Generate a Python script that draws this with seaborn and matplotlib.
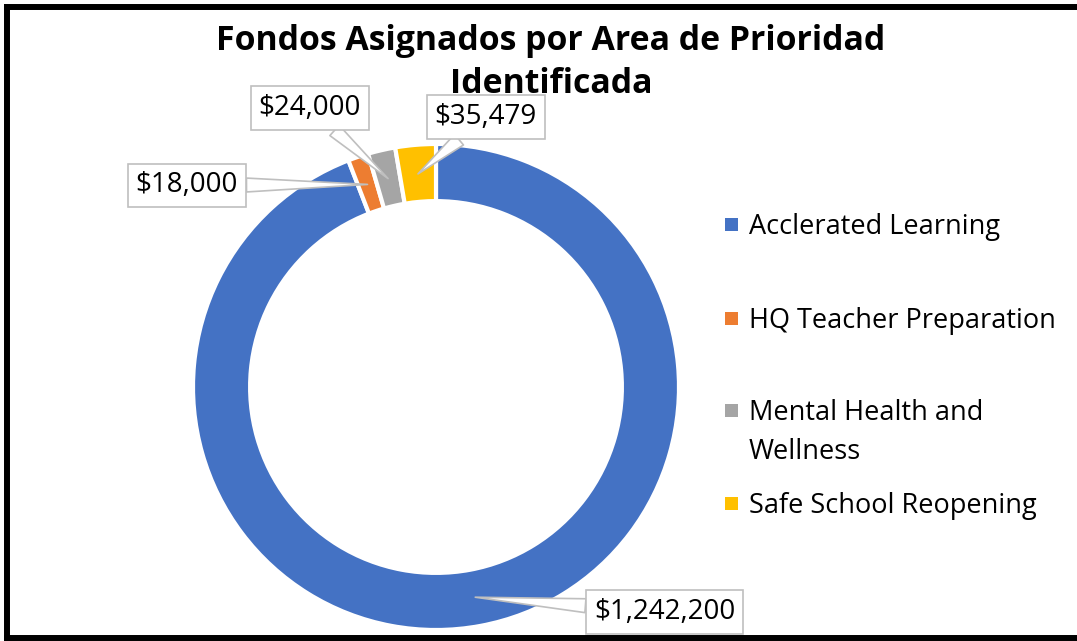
import matplotlib
matplotlib.use("Agg")
import matplotlib.pyplot as plt
import seaborn as sns
import numpy as np
from matplotlib.lines import Line2D
from matplotlib.patches import Rectangle

# Data
categories = ["Acclerated Learning", "HQ Teacher Preparation",
              "Mental Health and Wellness", "Safe School Reopening"]
legend_labels = ["Acclerated Learning", "HQ Teacher Preparation",
                 "Mental Health and\nWellness", "Safe School Reopening"]
amounts = [1242200, 18000, 24000, 35479]
title_lines = ["Fondos Asignados por Area de Prioridad", "Identificada"]

# Excel-like palette
colors = ["#4472C4", "#ED7D31", "#A5A5A5", "#FFC000"]

# Label box centers (data units of the pie axes) and legend/title rows (px from top)
label_pos = [(0.94, -0.925), (-1.025, 0.83), (-0.52, 1.148), (0.205, 1.11)]
legend_y = [227, 321, 432.5, 506]
title_y = [41, 84]

sns.set_theme(style="white")
plt.rcParams['font.family'] = ['Open Sans', 'DejaVu Sans']
plt.rcParams['text.color'] = 'black'

W, H = 1077, 641
fig = plt.figure(figsize=(W / 100, H / 100), dpi=100)

# Donut axes: centre (436, 387) px, outer radius 243 px
cx, cy, r = 436, 387, 243
ax = fig.add_axes([(cx - r) / W, (H - cy - r) / H, 2 * r / W, 2 * r / H])
wedges, _ = ax.pie(amounts, colors=colors, startangle=90, counterclock=False,
                   radius=1.0,
                   wedgeprops=dict(width=0.235, edgecolor="white", linewidth=3))
ax.set_xlim(-1, 1)
ax.set_ylim(-1, 1)
ax.set_aspect("equal")
ax.axis("off")

# Data labels with callouts
for w, v, (tx, ty) in zip(wedges, amounts, label_pos):
    ang = np.deg2rad((w.theta1 + w.theta2) / 2)
    px, py = 0.88 * np.cos(ang), 0.88 * np.sin(ang)
    ax.annotate(f"${v:,.0f}", xy=(px, py), xytext=(tx, ty),
                ha="center", va="center", fontsize=20, color="black",
                annotation_clip=False,
                bbox=dict(boxstyle="square,pad=0.28", fc="white", ec="#BFBFBF", lw=1.2),
                arrowprops=dict(arrowstyle="wedge,tail_width=0.5", fc="white",
                                ec="#BFBFBF", lw=1.2, shrinkA=0, shrinkB=0))

# Title (two centred lines)
for line, y in zip(title_lines, title_y):
    fig.text(551 / W, 1 - y / H, line, ha="center", va="center",
             fontsize=24.4, fontweight="bold", color="black")

# Legend (Excel style: marker aligned with first line)
for lab, c, y in zip(legend_labels, colors, legend_y):
    n = lab.count("\n") + 1
    y_first = y - (n - 1) * 19.5
    fig.patches.append(Rectangle((725 / W, 1 - (y_first + 4) / H), 13 / W, 13 / H,
                                 transform=fig.transFigure, fc=c, ec="none"))
    fig.text(749 / W, 1 - y / H, lab, ha="left", va="center", fontsize=19.5,
             linespacing=1.5, color="black")

# Chart frame (top, left, bottom)
for xs, ys in [((7, W + 5), (7, 7)), ((7, 7), (7, 638)), ((7, W + 5), (638, 638))]:
    fig.add_artist(Line2D([x / W for x in xs], [1 - y / H for y in ys],
                          transform=fig.transFigure, color="black", lw=4.3,
                          solid_capstyle="projecting"))

fig.savefig("out.png", dpi=100, facecolor="white")
